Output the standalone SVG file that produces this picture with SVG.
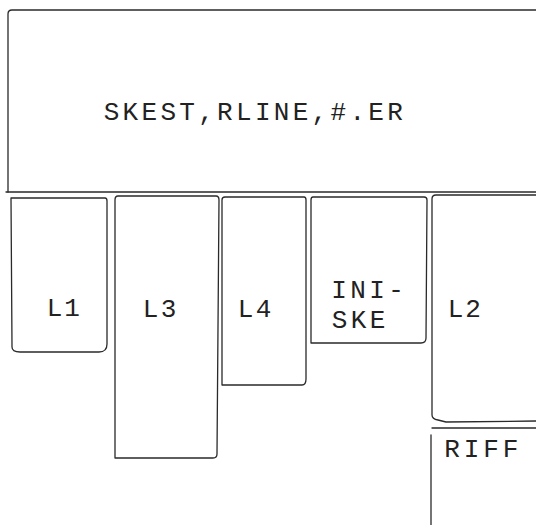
<svg xmlns="http://www.w3.org/2000/svg" width="536" height="525" viewBox="0 0 536 525">
<style>
.b{fill:none;stroke:#2a2a2a;stroke-width:1.3;stroke-linejoin:round;stroke-linecap:round}
.t{font-family:"Liberation Mono","Courier New",monospace;font-size:26px;fill:#222;text-anchor:middle}
</style>
<rect width="536" height="525" fill="#fff"/>
<g id="main">
<path class="b" d="M8,192 L8,14 Q8,10 12,10 L536,10"/>
<path class="b" d="M6,192 L536,192"/>
<text class="t" x="111.5 130.4 149.3 168.2 187.1 206 224.9 243.8 262.7 281.6 300.5 319.4 338.3 357.2 376.1 395" y="120">SKEST,RLINE,#.ER</text>
</g>
<g id="L1">
<path class="b" d="M11,198 L105,198 Q107,198 107,201 L107,344 Q107,352 99,352 L20,352 Q12,352 12,347 L11,198"/>
<text class="t" x="54.5 72" y="316">L1</text>
</g>
<g id="L3">
<path class="b" d="M118,196 L216,196 Q219,196 219,200 L217,454 Q217,458 213,458 L115,458 L115,200 Q115,196 118,196"/>
<text class="t" x="150.5 168.5" y="317">L3</text>
</g>
<g id="L4">
<path class="b" d="M225,197 L304,197 Q306,197 306,200 L306,379 Q306,385 302,385 L222,385 L222,200 Q222,197 225,197"/>
<text class="t" x="245.5 263.5" y="317">L4</text>
</g>
<g id="INISKE">
<path class="b" d="M313,197 L424,197 Q427,197 427,200 L426,338 Q426,343 421,343 L311,343 L311,200 Q311,197 313,197"/>
<text class="t" x="339 358 377 396" y="298">INI-</text>
<text class="t" x="339.5 358.5 377.5" y="328">SKE</text>
</g>
<g id="L2">
<path class="b" d="M536,195 L436,195 Q432,195 432,199 L432,415 Q432,419 438,420 L446,422 L536,421"/>
<text class="t" x="455.5 473" y="317">L2</text>
</g>
<g id="RIFF">
<path class="b" d="M432,428 L536,428"/>
<path class="b" d="M431,435 L431,525"/>
<text class="t" x="452 471.5 491 510.5" y="457">RIFF</text>
</g>
<g id="connectors"></g>
</svg>
